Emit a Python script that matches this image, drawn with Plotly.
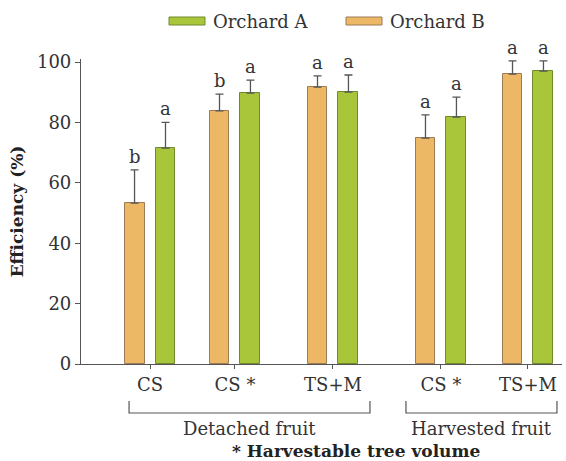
import plotly.graph_objects as go

# ---- data ----
categories = ["CS", "CS *", "TS+M", "CS *", "TS+M"]
groups = ["Detached fruit", "Harvested fruit"]
group_members = [[0, 1, 2], [3, 4]]
orchard_a = [71.5, 89.7, 90.0, 81.8, 97.0]
orchard_a_err = [8.5, 4.3, 5.7, 6.6, 3.4]
orchard_a_letters = ["a", "a", "a", "a", "a"]
orchard_b = [53.3, 83.8, 91.7, 74.8, 96.0]
orchard_b_err = [11.0, 5.6, 3.7, 7.7, 4.4]
orchard_b_letters = ["b", "b", "a", "a", "a"]
y_ticks = [0, 20, 40, 60, 80, 100]

# ---- layout helpers (positions / styles) ----
x_pos = [0, 0.944, 2.033, 3.233, 4.2]
bar_w = 0.222
off_b = -0.283
off_a = 0.061
FONT = "DejaVu Serif"
C_A, C_A_LINE = "#A9C53A", "#6E8A2E"
C_B, C_B_LINE = "#EDB866", "#9C7B55"
ERR_C = "#555555"
TXT = "#333333"

W, H = 566, 461
L, R, T, B = 81, 4, 59, 97
pw, ph = W - L - R, H - T - B
Y_MAX = 101

fig = go.Figure()
fig.add_trace(go.Bar(
    x=x_pos, y=orchard_b, name="Orchard B", width=bar_w, offset=off_b,
    marker=dict(color=C_B, line=dict(color=C_B_LINE, width=1)),
    error_y=dict(type="data", array=orchard_b_err, arrayminus=[0]*5, symmetric=False,
                 color=ERR_C, thickness=1.3, width=4),
    cliponaxis=False, showlegend=False))
fig.add_trace(go.Bar(
    x=x_pos, y=orchard_a, name="Orchard A", width=bar_w, offset=off_a,
    marker=dict(color=C_A, line=dict(color=C_A_LINE, width=1)),
    error_y=dict(type="data", array=orchard_a_err, arrayminus=[0]*5, symmetric=False,
                 color=ERR_C, thickness=1.3, width=4),
    cliponaxis=False, showlegend=False))

annotations = []
for i in range(len(categories)):
    for vals, errs, lets, off in [(orchard_b, orchard_b_err, orchard_b_letters, off_b),
                                  (orchard_a, orchard_a_err, orchard_a_letters, off_a)]:
        annotations.append(dict(
            x=x_pos[i] + off + bar_w / 2, y=vals[i] + errs[i], xref="x", yref="y",
            text=lets[i], showarrow=False, yanchor="bottom", yshift=1,
            font=dict(family=FONT, size=18, color=TXT)))

# bracket shapes and group labels
shapes = []
bracket_pad = [(-0.233, 0.411), (-0.389, 0.322)]
yb_top, yb_bot = -(401 - (H - B)) / ph, -(413 - (H - B)) / ph
for gi, members in enumerate(group_members):
    x0 = x_pos[members[0]] + bracket_pad[gi][0]
    x1 = x_pos[members[-1]] + bracket_pad[gi][1]
    shapes.append(dict(type="path", xref="x", yref="paper",
                       path=f"M {x0},{yb_top} L {x0},{yb_bot} L {x1},{yb_bot} L {x1},{yb_top}",
                       line=dict(color="#555555", width=1.2)))
    annotations.append(dict(x=(x0 + x1) / 2, y=-(428 - (H - B)) / ph, xref="x", yref="paper",
                            text=groups[gi], showarrow=False, yanchor="middle",
                            font=dict(family=FONT, size=18, color=TXT)))

annotations.append(dict(x=(356 - L) / pw, y=-(451 - (H - B)) / ph, xref="paper", yref="paper",
                        text="<b>* Harvestable tree volume</b>", showarrow=False, yanchor="middle",
                        font=dict(family=FONT, size=17, color="#222222")))

# custom legend
legend_items = [("Orchard A", C_A, C_A_LINE, 169), ("Orchard B", C_B, C_B_LINE, 346)]
for name, col, lcol, px in legend_items:
    xp0 = (px - L) / pw
    xp1 = (px + 36 - L) / pw
    yp0 = (H - B - 25) / ph
    yp1 = (H - B - 17) / ph
    shapes.append(dict(type="rect", xref="paper", yref="paper", x0=xp0, x1=xp1, y0=yp0, y1=yp1,
                       fillcolor=col, line=dict(color=lcol, width=1)))
    annotations.append(dict(x=(px + 42 - L) / pw, y=(H - B - 21) / ph, xref="paper", yref="paper",
                            text=name, showarrow=False, xanchor="left", yanchor="middle",
                            font=dict(family=FONT, size=18, color=TXT)))

fig.update_layout(
    width=W, height=H, margin=dict(l=L, r=R, t=T, b=B),
    paper_bgcolor="white", plot_bgcolor="white",
    showlegend=False, bargap=0,
    shapes=shapes, annotations=annotations,
    xaxis=dict(range=[-0.767, 4.578], tickmode="array", tickvals=x_pos, ticktext=categories,
               showline=True, linecolor="#555555", linewidth=1.2, ticks="outside", ticklen=4,
               tickcolor="#555555", showgrid=False, zeroline=False,
               tickfont=dict(family=FONT, size=18, color=TXT)),
    yaxis=dict(range=[0, Y_MAX], tickvals=y_ticks, showline=True, linecolor="#555555", linewidth=1.2,
               ticks="outside", ticklen=5, tickcolor="#555555", showgrid=False, zeroline=False,
               tickfont=dict(family=FONT, size=18, color=TXT),
               title=dict(text="<b>Efficiency (%)</b>", standoff=8,
                          font=dict(family=FONT, size=17, color="#222222"))),
)

fig.write_html("out.html", config={"displayModeBar": False},
               post_script="document.body.style.margin='0';")
